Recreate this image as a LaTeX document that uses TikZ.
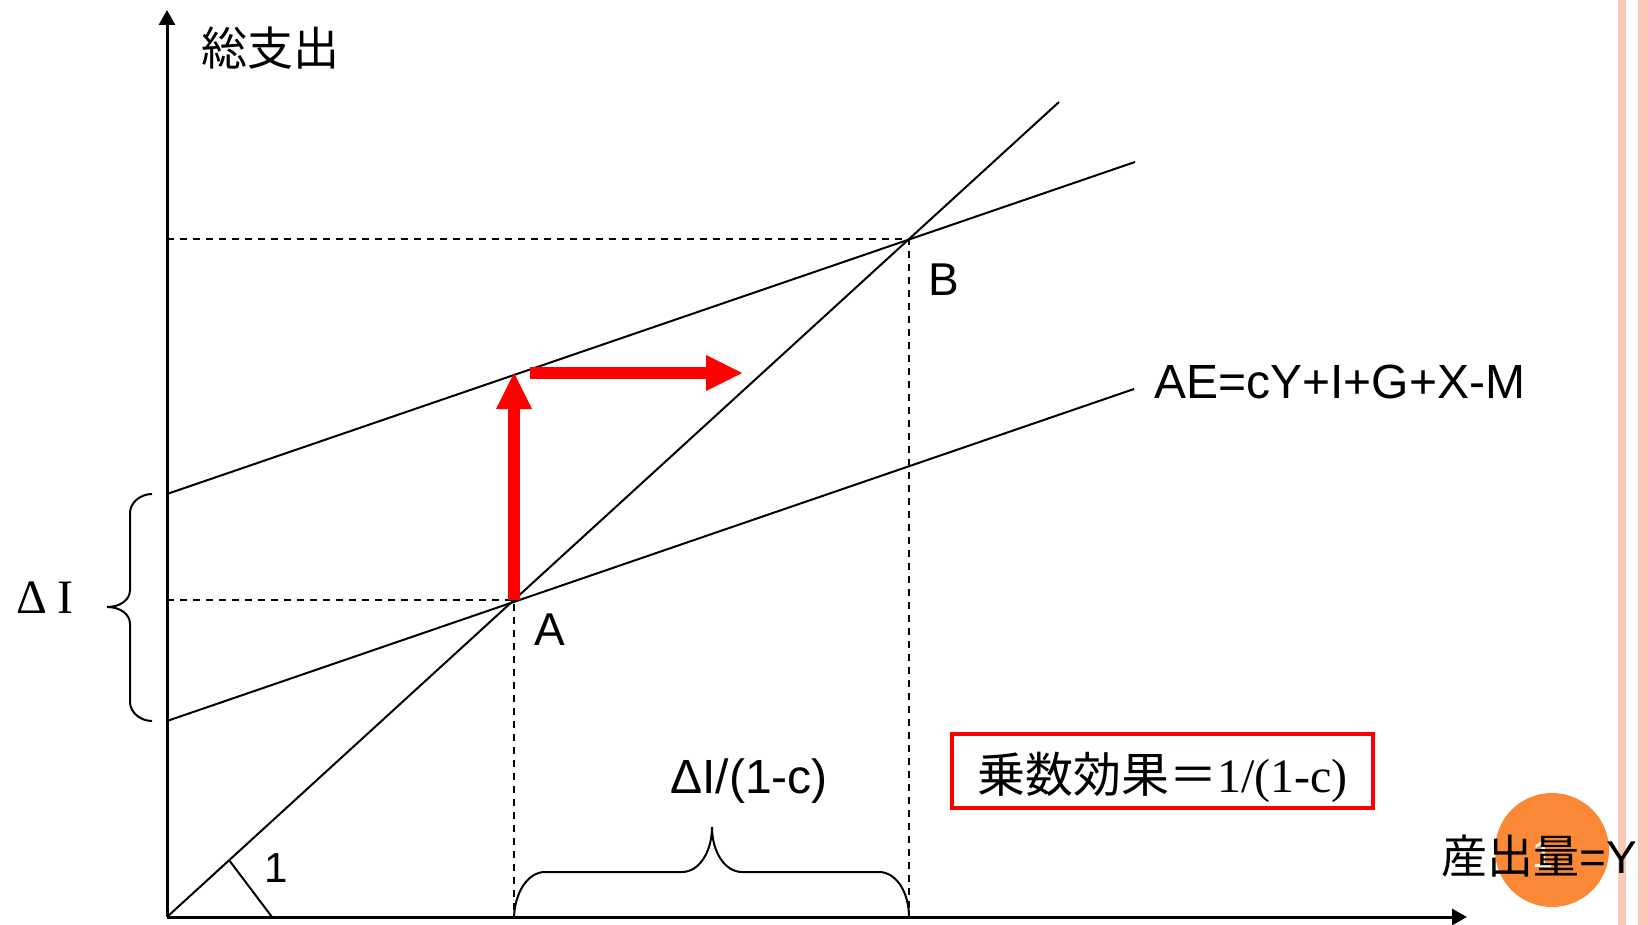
\documentclass[tikz,border=0pt]{standalone}
\usepackage{fontspec}
\setmainfont{Liberation Sans}
\newfontfamily\jpfont{Noto Sans CJK JP}
\newfontfamily\seriffont{Liberation Serif}
\usetikzlibrary{arrows.meta}
\definecolor{slideorange}{RGB}{250,136,54}
\definecolor{slidepink}{RGB}{252,200,182}

\begin{document}
\begin{tikzpicture}[x=0.5pt, y=-0.5pt,
  axisline/.style={line width=1.5pt, -{Triangle[length=7.5pt,width=8pt]}},
  aeline/.style={line width=1pt},
  guide/.style={line width=1pt, dash pattern=on 3.5pt off 3pt},
  shiftarrow/.style={red, line width=6pt, -{Triangle[length=18pt,width=18pt,line width=0pt]}},
  bracepath/.style={line width=1pt},
  lbl/.style={inner sep=0pt, font=\fontsize{23}{27}\selectfont},
  multbox/.style={draw=red, line width=2pt, inner sep=0pt, minimum width=210.5pt, minimum height=37pt, text height=26pt, text depth=5pt}]
\useasboundingbox (0,0) rectangle (1648,925);
\fill[slidepink] (1618,0) rectangle (1626,925);
\fill[slidepink] (1638,0) rectangle (1648,925);

\coordinate (O) at (167,917);
\coordinate (ytop) at (167,10);
\coordinate (xend) at (1467,917);
\coordinate (diagend) at (1059,102);
\coordinate (A) at (514,600);
\coordinate (B) at (909,239);
\coordinate (low0) at (167,721);
\coordinate (low1) at (1134,389);
\coordinate (up0) at (167,494);
\coordinate (up1) at (1135,162);
\coordinate (tick) at (229,860);
\coordinate (tickend) at (272,917);
\coordinate (Aup) at (514,373);
\coordinate (push0) at (530,373);
\coordinate (push1) at (742,373);

% axes and lines
\draw[axisline] (O) -- (ytop);
\draw[axisline] (O) -- (xend);
\draw[aeline] (O) -- (diagend);
\draw[aeline] (low0) -- (low1);
\draw[aeline] (up0) -- (up1);
\draw[aeline] (tick) -- (tickend);

\draw[guide] (O |- A) -- (A) -- (A |- O);
\draw[guide] (O |- B) -- (B) -- (B |- O);

\draw[shiftarrow] (A) -- (Aup);
\draw[shiftarrow] (push0) -- (push1);

% braces
\draw[bracepath] (A |- O) .. controls (515,892) and (528,872) .. (545,872) -- (682,872)
  .. controls (699,872) and (712,852) .. (712,827)
  .. controls (712,852) and (725,872) .. (742,872) -- (879,872)
  .. controls (896,872) and (909,892) .. (909,917);
\draw[bracepath] (152,494) .. controls (140,494) and (130,503) .. (130,513) -- (130,590)
  .. controls (130,600) and (120,607) .. (107,607)
  .. controls (120,607) and (130,614) .. (130,624) -- (130,702)
  .. controls (130,712) and (140,721) .. (152,721);

% labels
\node[lbl, anchor=base, font=\jpfont\fontsize{23}{27}\selectfont] (ylbl) at (270,66) {総支出};
\node[lbl, anchor=base] (Blbl) at (944,295) {B};
\node[lbl, anchor=base] (Albl) at (550,645) {A};
\node[lbl, anchor=base west, font=\fontsize{24}{28}\selectfont] (aelbl) at (1154,398) {AE=cY+I+G+X-M};
\node[lbl, anchor=base, font=\fontsize{24}{28}\selectfont] (gap) at (749,793) {ΔI/(1-c)};
\node[lbl, anchor=base, font=\fontsize{21}{25}\selectfont] (one) at (276,882) {1};
\node[anchor=base west, inner sep=0pt, font=\seriffont\fontsize{24}{28}\selectfont] (dI) at (16,613) {Δ\hspace{5pt}I};
\node[multbox] (mult) at (1162.5,771) {\fontsize{24}{28}\selectfont{\jpfont 乗数効果＝}{\seriffont 1/(1-c)}};

\fill[slideorange] (1552,850) circle[radius=57];
\node[anchor=base, inner sep=0pt, text=white, font=\fontsize{19}{22}\selectfont] (slidenum) at (1543,867) {1};
\node[lbl, anchor=base west] (xlbl) at (1441,873) {{\jpfont 産出量}=Y};
\end{tikzpicture}
\end{document}
